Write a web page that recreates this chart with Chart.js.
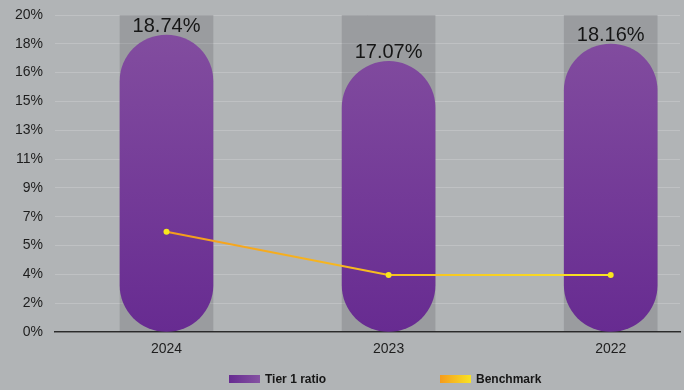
<!DOCTYPE html>
<html>
<head>
<meta charset="utf-8">
<script src="https://cdn.jsdelivr.net/npm/chart.js@4/dist/chart.umd.min.js"></script>
<style>
  html, body { margin: 0; padding: 0; background: #b1b4b6; }
  #wrap { width: 684px; height: 390px; }
</style>
</head>
<body>
<div id="wrap"><canvas id="c" width="684" height="390"></canvas></div>
<script>
// Years shown on the x axis
const categories = ['2024', '2023', '2022'];
// Tier 1 capital ratio, %
const tier1Ratio = [18.74, 17.07, 18.16];
// Regulatory benchmark, %
const benchmark = [6.33, 3.6, 3.6];
// Full-height backdrop columns, %
const backdrop = [20, 20, 20];
// Y axis: 0-20 split into 11 equal steps, labelled as whole percents
const yMax = 20;
const yTicks = Array.from({ length: 12 }, (_, i) => i * yMax / 11);

const FONT = '"Liberation Sans", Arial, Helvetica, sans-serif';

const toPoints = arr => arr.map((v, i) => ({ x: i, y: v }));

function purpleFill(ctx) {
  const area = ctx.chart.chartArea;
  if (!area) return '#7a3f9a';
  const g = ctx.chart.ctx.createLinearGradient(0, area.top, 0, area.bottom);
  g.addColorStop(0, '#844fa0');
  g.addColorStop(1, '#672b91');
  return g;
}

function benchLine(ctx) {
  const area = ctx.chart.chartArea;
  if (!area) return '#f7b421';
  const x = ctx.chart.scales.x;
  const g = ctx.chart.ctx.createLinearGradient(x.getPixelForValue(0), 0, x.getPixelForValue(2), 0);
  g.addColorStop(0, '#f59b1c');
  g.addColorStop(1, '#f8e324');
  return g;
}

// Value labels above the purple columns
const valueLabels = {
  id: 'valueLabels',
  afterDatasetsDraw(chart) {
    const meta = chart.getDatasetMeta(1);
    const c = chart.ctx;
    c.save();
    c.font = '20px ' + FONT;
    c.fillStyle = '#161616';
    c.textAlign = 'center';
    c.textBaseline = 'alphabetic';
    meta.data.forEach((el, i) => {
      c.fillText(tier1Ratio[i].toFixed(2) + '%', el.x, el.y - 3);
    });
    c.restore();
  }
};

// Legend row with gradient swatches
const swatchLegend = {
  id: 'swatchLegend',
  afterDraw(chart) {
    const c = chart.ctx;
    const items = [
      { label: chart.data.datasets[1].label, x: 229, from: '#672b91', to: '#8552a2' },
      { label: chart.data.datasets[0].label, x: 440, from: '#f59b1c', to: '#f8e324' }
    ];
    c.save();
    c.font = 'bold 12px ' + FONT;
    c.textBaseline = 'middle';
    c.textAlign = 'left';
    items.forEach(it => {
      const g = c.createLinearGradient(it.x, 0, it.x + 31, 0);
      g.addColorStop(0, it.from);
      g.addColorStop(1, it.to);
      c.fillStyle = g;
      c.fillRect(it.x, 375, 31, 8);
      c.fillStyle = '#161616';
      c.fillText(it.label, it.x + 36, 379.5);
    });
    c.restore();
  }
};

new Chart(document.getElementById('c'), {
  data: {
    datasets: [
      {
        type: 'line',
        label: 'Benchmark',
        data: toPoints(benchmark),
        borderColor: benchLine,
        borderWidth: 2,
        pointRadius: 3,
        pointBackgroundColor: '#f8e71c',
        pointBorderWidth: 0,
        tension: 0,
        order: 0
      },
      {
        type: 'bar',
        label: 'Tier 1 ratio',
        data: toPoints(tier1Ratio),
        backgroundColor: purpleFill,
        borderRadius: 60,
        borderSkipped: false,
        barThickness: 93,
        grouped: false,
        order: 1
      },
      {
        type: 'bar',
        label: 'Backdrop',
        data: toPoints(backdrop),
        backgroundColor: 'rgba(40,44,48,0.17)',
        barThickness: 93,
        grouped: false,
        order: 2
      }
    ]
  },
  options: {
    responsive: false,
    animation: false,
    layout: { padding: { top: 15, right: 0, bottom: 30, left: 0 } },
    plugins: { legend: { display: false }, tooltip: { enabled: false } },
    scales: {
      x: {
        type: 'linear',
        offset: false,
        min: -0.502,
        max: 2.312,
        afterBuildTicks: s => { s.ticks = categories.map((_, i) => ({ value: i })); },
        afterFit: s => { s.height = 28; s.paddingLeft = 0; s.paddingRight = 0; },
        grid: { display: false, drawTicks: false, offset: false },
        border: { display: true, color: '#2b2b2b', width: 1.5 },
        ticks: {
          padding: 9,
          color: '#1e1e1e',
          font: { family: FONT, size: 14 },
          callback: v => categories[v]
        }
      },
      y: {
        min: 0,
        max: yMax,
        afterBuildTicks: s => { s.ticks = yTicks.map(v => ({ value: v })); },
        afterFit: s => { s.width = 55; s.paddingTop = 0; s.paddingBottom = 0; },
        grid: { color: '#bfc1c3', lineWidth: 1, drawTicks: false },
        border: { display: false },
        ticks: {
          padding: 12,
          color: '#1e1e1e',
          font: { family: FONT, size: 14 },
          callback: v => Math.round(v) + '%'
        }
      }
    }
  },
  plugins: [valueLabels, swatchLegend]
});
</script>
</body>
</html>
